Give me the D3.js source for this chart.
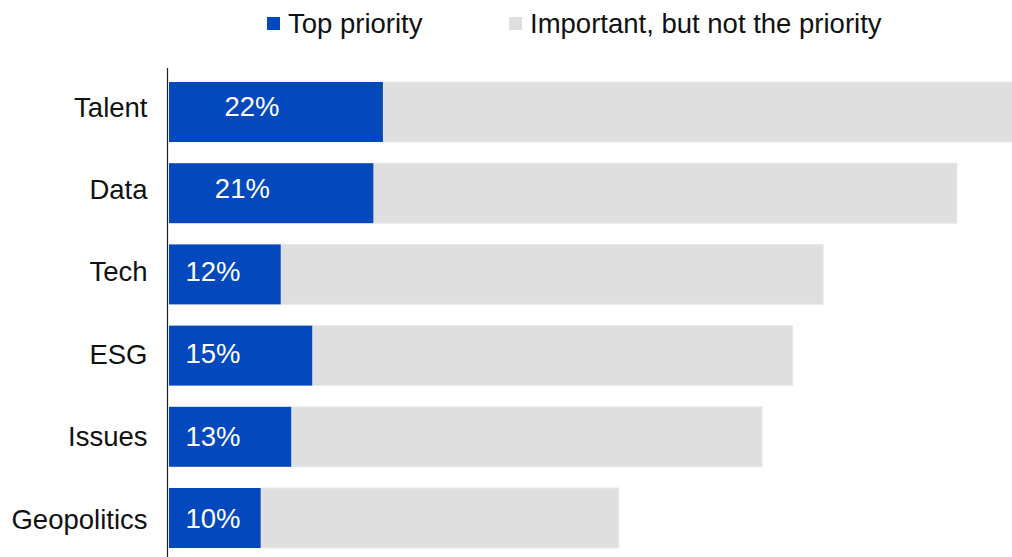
<!DOCTYPE html>
<html>
<head>
<meta charset="utf-8">
<script src="https://cdn.jsdelivr.net/npm/d3@7"></script>
<style>
  html, body { margin: 0; padding: 0; background: #ffffff; }
  svg { display: block; }
  text { font-family: "Liberation Sans", Arial, Helvetica, sans-serif; }
</style>
</head>
<body>
<svg id="chart" width="1012" height="557"></svg>
<script>
// ---- data ----
const categories = ["Talent", "Data", "Tech", "ESG", "Issues", "Geopolitics"];
const topPriority = [22.4, 21.4, 11.7, 15.0, 12.8, 9.6];          // % top priority
const importantNotPriority = [66.6, 61.1, 56.8, 50.3, 49.3, 37.5]; // % important, not priority
const seriesNames = ["Top priority", "Important, but not the priority"];
const colors = ["#0349BD", "#DFDFDF"];

const svg = d3.select("#chart");
const W = 1012, H = 557;
const FS = 27.5;

const x = d3.scaleLinear().domain([0, 100]).range([169, 1124]);
const y = d3.scaleBand().domain(categories).range([82, 548]).paddingInner(0.261).paddingOuter(0);
// text baselines in the reference sit on a slightly wider spacing than the bars
const yText = d3.scalePoint().domain(categories).range([116, 528]);

const rows = categories.map((c, i) => ({ cat: c, top: topPriority[i], imp: importantNotPriority[i] }));

const g = svg.append("g");

// gray (second) segments
g.selectAll("rect.imp").data(rows).join("rect")
  .attr("class", "imp")
  .attr("x", d => x(d.top))
  .attr("y", d => y(d.cat))
  .attr("width", d => x(d.top + d.imp) - x(d.top))
  .attr("height", y.bandwidth())
  .attr("fill", colors[1])
  .attr("stroke", "#e9e9e9")
  .attr("stroke-width", 1);

// blue (first) segments
g.selectAll("rect.top").data(rows).join("rect")
  .attr("class", "top")
  .attr("x", x(0))
  .attr("y", d => y(d.cat))
  .attr("width", d => x(d.top) - x(0))
  .attr("height", y.bandwidth())
  .attr("fill", colors[0]);

// value labels
g.selectAll("text.val").data(rows).join("text")
  .attr("class", "val")
  .attr("x", d => Math.max(x(0) + 44, x(d.top) - 131))
  .attr("y", d => yText(d.cat))
  .attr("text-anchor", "middle")
  .attr("fill", "#ffffff")
  .attr("font-size", FS)
  .text(d => Math.round(d.top) + "%");

// y axis (category labels)
const yAxis = d3.axisLeft(yText).tickSize(0).tickPadding(20);
const ya = svg.append("g").attr("transform", `translate(167.5,0)`).call(yAxis);
ya.select(".domain").remove();
ya.selectAll("text")
  .attr("font-size", FS)
  .attr("fill", "#111")
  .attr("font-family", "'Liberation Sans', Arial, sans-serif")
  .attr("dy", "0");
svg.append("line")
  .attr("x1", 167.5).attr("x2", 167.5)
  .attr("y1", 68).attr("y2", H)
  .attr("stroke", "#222").attr("stroke-width", 1.2);

// legend
const legendX = [267, 509];
const lg = svg.append("g");
seriesNames.forEach((name, i) => {
  lg.append("rect").attr("x", legendX[i]).attr("y", 17).attr("width", 13).attr("height", 13).attr("fill", colors[i]);
  lg.append("text").attr("x", legendX[i] + 21).attr("y", 33)
    .attr("font-size", FS).attr("fill", "#111").text(name);
});
</script>
</body>
</html>
